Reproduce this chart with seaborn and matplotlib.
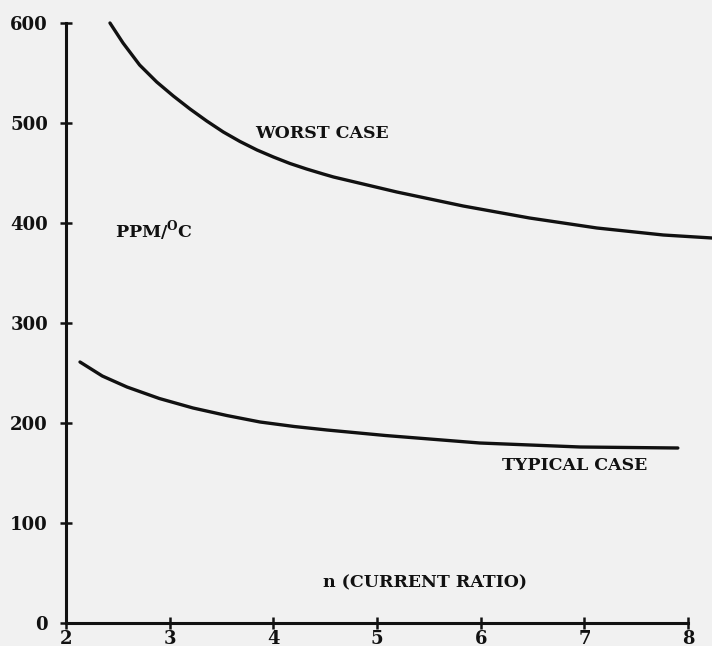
import matplotlib
matplotlib.use("Agg")
import matplotlib.pyplot as plt
import seaborn as sns
import pandas as pd

# Temperature coefficient (PPM/°C) versus current ratio n
worst_n = [2.424, 2.55, 2.71, 2.875, 3.035, 3.196, 3.357, 3.517, 3.678, 3.842,
           4.0, 4.16, 4.32, 4.48, 4.58, 5.19, 5.83, 6.47, 7.12, 7.76, 8.23]
worst_ppm = [600, 580, 558, 541, 527, 514, 502, 491, 481.5, 473,
             466, 459.5, 454, 449, 446, 431, 417, 405, 395, 388, 385]

typical_n = [2.135, 2.35, 2.588, 2.9, 3.225, 3.55, 3.871, 4.2, 4.517, 5.08,
             5.99, 6.96, 7.90]
typical_ppm = [261, 247, 236, 224.5, 215, 207.5, 201, 196.5, 193, 187.5,
               180, 176, 175]

x_ticks = [2, 3, 4, 5, 6, 7, 8]
y_ticks = [0, 100, 200, 300, 400, 500, 600]

bg = "#f1f1f1"
ink = "#111111"

sns.set_style("ticks")
plt.rcParams["font.family"] = ["DejaVu Serif"]
plt.rcParams["font.weight"] = "bold"
plt.rcParams["mathtext.fontset"] = "custom"
plt.rcParams["mathtext.rm"] = "DejaVu Serif:bold"

df = pd.concat([
    pd.DataFrame({"n": worst_n, "ppm": worst_ppm, "case": "WORST CASE"}),
    pd.DataFrame({"n": typical_n, "ppm": typical_ppm, "case": "TYPICAL CASE"}),
])

W, H = 712, 646
left_px, bottom_px = 66, 23
fig = plt.figure(figsize=(W / 100, H / 100), dpi=100, facecolor=bg)
ax = fig.add_axes([left_px / W, bottom_px / H, 1 - left_px / W, 1 - bottom_px / H])
ax.set_facecolor(bg)

sns.lineplot(data=df, x="n", y="ppm", units="case", estimator=None, sort=False,
             color=ink, linewidth=2.4, ax=ax, legend=False)

ax.set_xlim(2, 2 + (W - left_px) / 103.7)
ax.set_ylim(0, H - bottom_px)
ax.set_xticks(x_ticks)
ax.set_yticks(y_ticks)
ax.set_xticklabels([str(v) for v in x_ticks])
ax.set_yticklabels([str(v) for v in y_ticks])
ax.set_xlabel("")
ax.set_ylabel("")

for side in ["top", "right"]:
    ax.spines[side].set_visible(False)
for side in ["left", "bottom"]:
    ax.spines[side].set_linewidth(2.2)
    ax.spines[side].set_color(ink)
ax.spines["left"].set_bounds(0, 600)
ax.spines["bottom"].set_bounds(2, 8)

ax.tick_params(axis="both", direction="inout", length=8, width=1.8, color=ink,
               labelsize=13, labelcolor=ink)
ax.tick_params(axis="y", pad=9)
ax.tick_params(axis="x", pad=1)

txt = dict(fontsize=12.5, fontweight="bold", color=ink, va="center", ha="left")
ax.text(3.82, 490, "WORST CASE", **txt)
ax.text(6.20, 158, "TYPICAL CASE", **txt)
ax.text(4.48, 40, "n (CURRENT RATIO)", **txt)
ax.text(2.47, 392, r"PPM/$^{\mathrm{O}}$C", **txt)

fig.savefig("out.png", dpi=100, facecolor=bg)
